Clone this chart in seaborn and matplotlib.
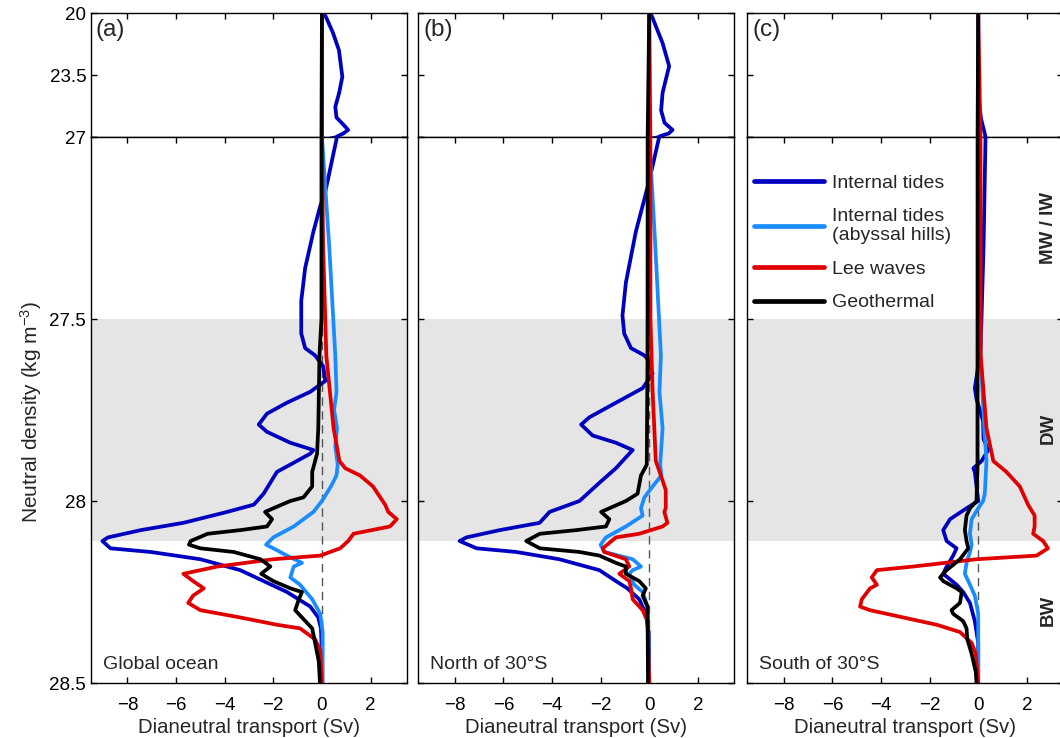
import matplotlib
matplotlib.use("Agg")
import matplotlib.pyplot as plt
from matplotlib.lines import Line2D
import pandas as pd
import seaborn as sns

# ---- data (neutral density in kg m-3, transport in Sv) ----
SOURCES = ["Internal tides", "Internal tides\n(abyssal hills)", "Lee waves", "Geothermal"]
PANEL_TAGS = ["(a)", "(b)", "(c)"]
REGIONS = ["Global ocean", "North of 30\u00b0S", "South of 30\u00b0S"]
WATER_MASSES = ["MW / IW", "DW", "BW"]
WATER_MASS_RHO = [27.25, 27.80, 28.30]

# (a) global ocean
glob_tides_rho = [20.15, 21.1, 22.1, 23.6, 24.5, 25.3, 25.9, 26.3, 26.6, 26.8, 26.95, 27.0,
                  27.15, 27.19, 27.26, 27.36, 27.45, 27.54, 27.58, 27.60, 27.63, 27.67, 27.70,
                  27.73, 27.76, 27.79, 27.81, 27.84, 27.86, 27.87, 27.90, 27.92, 27.98, 28.01,
                  28.03, 28.06, 28.08, 28.10, 28.11, 28.13, 28.14, 28.16, 28.19, 28.22, 28.25,
                  28.29, 28.32, 28.35, 28.42, 28.5]
glob_tides_sv = [0.14, 0.45, 0.7, 0.84, 0.71, 0.55, 0.6, 0.88, 1.08, 0.88, 0.65, 0.62,
                 0.14, -0.07, -0.35, -0.69, -0.85, -0.85, -0.69, -0.28, 0.05, 0.14, -0.48,
                 -1.44, -2.26, -2.6, -2.26, -1.3, -0.35, -0.48, -1.3, -1.85, -2.4, -2.8,
                 -3.9, -5.7, -7.45, -8.8, -9.03, -8.7, -7.05, -5.0, -3.36, -2.4, -1.44,
                 -0.48, -0.15, -0.04, 0.0, 0.0]
glob_hills_rho = [20.0, 27.0, 27.3, 27.6, 27.7, 27.75, 27.8, 27.85, 27.9, 27.93, 27.96, 28.0,
                  28.03, 28.07, 28.10, 28.12, 28.13, 28.15, 28.17, 28.18, 28.21, 28.23, 28.27,
                  28.31, 28.36, 28.5]
glob_hills_sv = [0.0, 0.0, 0.3, 0.55, 0.6, 0.5, 0.62, 0.55, 0.65, 0.6, 0.37, 0.0,
                 -0.35, -1.16, -2.0, -2.3, -2.0, -1.44, -0.82, -1.16, -1.3, -0.9, -0.4,
                 -0.07, 0.03, 0.03]
glob_lee_rho = [20.0, 27.0, 27.3, 27.6, 27.8, 27.89, 27.91, 27.93, 27.96, 28.01, 28.03, 28.05,
                28.07, 28.09, 28.11, 28.13, 28.15, 28.16, 28.18, 28.20, 28.22, 28.24, 28.26,
                28.28, 28.30, 28.32, 28.34, 28.35, 28.38, 28.41, 28.5]
glob_lee_sv = [0.0, 0.0, 0.05, 0.18, 0.48, 0.72, 0.96, 1.57, 2.1, 2.6, 2.73, 3.08,
               2.8, 1.3, 1.08, 0.75, -0.07, -2.0, -4.3, -5.7, -5.3, -4.86, -5.3,
               -5.5, -5.0, -3.36, -1.85, -0.9, -0.28, -0.07, 0.0]
glob_geo_rho = [20.0, 27.5, 27.6, 27.8, 27.87, 27.92, 27.96, 27.99, 28.0, 28.02, 28.03, 28.05,
                28.07, 28.08, 28.09, 28.11, 28.12, 28.13, 28.14, 28.16, 28.18, 28.20, 28.22,
                28.24, 28.25, 28.27, 28.30, 28.33, 28.35, 28.39, 28.44, 28.5]
glob_geo_sv = [0.0, -0.02, -0.1, -0.15, -0.2, -0.4, -0.4, -0.76, -1.3, -2.0, -2.34, -2.05,
               -2.26, -3.36, -4.7, -5.4, -5.47, -5.0, -3.63, -2.53, -2.12, -2.5, -2.0,
               -1.3, -0.82, -0.95, -1.1, -0.68, -0.4, -0.28, -0.13, -0.08]

# (b) north of 30S
north_tides_rho = [20.15, 21.7, 23.0, 24.5, 25.5, 26.2, 26.6, 26.8, 26.95, 27.0, 27.12, 27.26,
                   27.40, 27.49, 27.54, 27.58, 27.60, 27.61, 27.65, 27.69, 27.73, 27.77, 27.79,
                   27.82, 27.84, 27.86, 27.88, 27.91, 27.95, 28.0, 28.03, 28.06, 28.08, 28.10,
                   28.11, 28.13, 28.14, 28.16, 28.19, 28.22, 28.24, 28.27, 28.31, 28.36, 28.5]
north_tides_sv = [0.1, 0.55, 0.82, 0.55, 0.49, 0.63, 0.96, 0.8, 0.45, 0.41, 0.0, -0.55,
                  -0.96, -1.1, -1.03, -0.75, -0.2, -0.07, 0.14, -0.27, -1.37, -2.46, -2.8,
                  -2.33, -1.37, -0.68, -0.96, -1.37, -2.05, -2.87, -4.1, -4.51, -6.15, -7.52,
                  -7.8, -7.1, -5.47, -3.7, -2.05, -1.37, -0.9, -0.41, -0.14, -0.02, 0.0]
north_hills_rho = [20.0, 27.0, 27.3, 27.6, 27.7, 27.8, 27.9, 27.93, 27.96, 27.99, 28.02, 28.04,
                   28.07, 28.10, 28.12, 28.14, 28.16, 28.18, 28.19, 28.20, 28.23, 28.25, 28.29,
                   28.5]
north_hills_sv = [0.0, 0.0, 0.25, 0.48, 0.42, 0.55, 0.45, 0.5, 0.14, -0.2, -0.34, -0.27,
                  -0.96, -1.78, -2.0, -1.85, -0.68, -0.34, -0.68, -0.82, -0.62, -0.27, -0.07,
                  0.0]
north_lee_rho = [20.0, 27.5, 27.7, 27.89, 27.93, 27.97, 28.02, 28.03, 28.06, 28.07, 28.09, 28.10,
                 28.13, 28.14, 28.16, 28.18, 28.20, 28.22, 28.24, 28.27, 28.30, 28.33, 28.5]
north_lee_sv = [0.0, 0.05, 0.14, 0.27, 0.48, 0.68, 0.68, 0.62, 0.75, 0.55, -0.41, -1.37,
                -1.91, -1.85, -0.96, -0.82, -1.23, -0.82, -0.75, -0.68, -0.27, -0.07, 0.0]
north_geo_rho = [20.0, 27.6, 27.9, 27.93, 27.98, 28.0, 28.02, 28.03, 28.05, 28.07, 28.08, 28.09,
                 28.11, 28.13, 28.14, 28.15, 28.17, 28.18, 28.20, 28.22, 28.24, 28.26, 28.29,
                 28.5]
north_geo_sv = [0.0, -0.07, -0.1, -0.34, -0.48, -0.96, -1.64, -1.98, -1.64, -1.78, -3.0, -4.5,
                -5.06, -4.5, -2.87, -2.05, -1.37, -0.96, -0.96, -0.41, -0.14, -0.27, -0.07,
                -0.05]

# (c) south of 30S
south_tides_rho = [20.0, 24.7, 26.0, 26.8, 27.0, 27.3, 27.58, 27.63, 27.69, 27.72, 27.78, 27.83,
                   27.86, 27.89, 27.91, 27.92, 27.96, 28.0, 28.02, 28.05, 28.08, 28.11, 28.13,
                   28.15, 28.18, 28.20, 28.23, 28.25, 28.28, 28.33, 28.39, 28.5]
south_tides_sv = [0.0, 0.0, 0.12, 0.27, 0.3, 0.22, 0.1, 0.0, -0.14, -0.07, 0.2, 0.22,
                  0.41, 0.14, -0.2, -0.14, -0.07, 0.0, -0.48, -1.16, -1.44, -1.3, -0.89,
                  -1.03, -1.3, -1.44, -0.89, -0.62, -0.34, -0.14, 0.0, 0.0]
south_hills_rho = [20.0, 27.0, 27.6, 27.8, 27.89, 27.98, 28.0, 28.02, 28.05, 28.09, 28.12, 28.14,
                   28.17, 28.20, 28.23, 28.26, 28.31, 28.5]
south_hills_sv = [0.0, 0.0, 0.1, 0.25, 0.34, 0.27, 0.2, 0.0, -0.27, -0.34, -0.27, -0.34,
                  -0.48, -0.55, -0.34, -0.14, 0.0, 0.0]
south_lee_rho = [20.0, 27.6, 27.8, 27.89, 27.92, 27.96, 28.01, 28.04, 28.07, 28.09, 28.11, 28.13,
                 28.15, 28.16, 28.18, 28.19, 28.21, 28.23, 28.24, 28.27, 28.29, 28.30, 28.32,
                 28.34, 28.36, 28.39, 28.42, 28.5]
south_lee_sv = [0.0, 0.1, 0.34, 0.62, 1.16, 1.71, 2.05, 2.32, 2.32, 2.26, 2.67, 2.87,
                2.4, -0.07, -2.67, -4.17, -4.38, -4.17, -4.45, -4.79, -4.86, -4.45, -3.08,
                -1.71, -0.75, -0.27, -0.1, 0.0]
south_geo_rho = [20.0, 27.9, 28.0, 28.02, 28.04, 28.08, 28.11, 28.13, 28.16, 28.19, 28.21, 28.22,
                 28.24, 28.25, 28.28, 28.30, 28.31, 28.33, 28.35, 28.38, 28.42, 28.47, 28.5]
south_geo_sv = [0.0, -0.03, -0.07, -0.34, -0.48, -0.55, -0.48, -0.41, -0.75, -1.3, -1.57, -1.44,
                -0.89, -0.68, -0.75, -1.1, -1.03, -0.62, -0.48, -0.45, -0.27, -0.1, -0.07]

X_TICKS = [-8, -6, -4, -2, 0, 2]
TOP_TICKS = [20, 23.5, 27]
BOT_TICKS = [27, 27.5, 28, 28.5]
DW_BAND = (27.5, 28.11)

COLORS = ["#0000c0", "#1a8cff", "#e00000", "#000000"]


def panel_frame(curves):
    """Long-format table of the four curves of one panel."""
    parts = [pd.DataFrame({"density": rho, "transport": sv, "source": name})
             for name, (rho, sv) in zip(SOURCES, curves)]
    return pd.concat(parts, ignore_index=True)


panels = [
    panel_frame([(glob_tides_rho, glob_tides_sv), (glob_hills_rho, glob_hills_sv),
                 (glob_lee_rho, glob_lee_sv), (glob_geo_rho, glob_geo_sv)]),
    panel_frame([(north_tides_rho, north_tides_sv), (north_hills_rho, north_hills_sv),
                 (north_lee_rho, north_lee_sv), (north_geo_rho, north_geo_sv)]),
    panel_frame([(south_tides_rho, south_tides_sv), (south_hills_rho, south_hills_sv),
                 (south_lee_rho, south_lee_sv), (south_geo_rho, south_geo_sv)]),
]

sns.set_style("ticks")
plt.rcParams["font.family"] = ["Liberation Sans", "DejaVu Sans"]
plt.rcParams["mathtext.default"] = "regular"
plt.rcParams["axes.linewidth"] = 1.0

W, H = 1060, 738
fig = plt.figure(figsize=(W / 100, H / 100), dpi=100)
lefts = [91, 418.3, 747.3]
pw = 316

for i, df in enumerate(panels):
    l = lefts[i] / W
    ax_top = fig.add_axes([l, 1 - 137 / H, pw / W, 124 / H])
    ax_bot = fig.add_axes([l, 1 - 683 / H, pw / W, 546 / H])

    ax_bot.axhspan(*DW_BAND, color="#e5e5e5", lw=0, zorder=0)
    ax_bot.axvline(0, color="#555555", lw=1.0, dashes=(6, 4), zorder=1)

    for ax in (ax_top, ax_bot):
        sns.lineplot(data=df, x="transport", y="density", hue="source",
                     hue_order=SOURCES, palette=COLORS, sort=False, estimator=None,
                     orient="y", linewidth=2.7, solid_joinstyle="round",
                     solid_capstyle="round", legend=False, ax=ax, zorder=3)
        ax.set_xlim(-9.5, 3.5)
        ax.set_xticks(X_TICKS)
        ax.set_xlabel("")
        ax.set_ylabel("")
        ax.tick_params(direction="in", length=4.5, width=1.0, labelsize=13.5,
                       left=True, right=True, colors="black")
        for s in ax.spines.values():
            s.set_visible(True)
            s.set_color("black")

    ax_top.set_ylim(27, 20)
    ax_top.set_yticks(TOP_TICKS)
    ax_top.tick_params(axis="x", top=True, bottom=False, labelbottom=False)
    ax_bot.set_ylim(28.5, 27)
    ax_bot.set_yticks(BOT_TICKS)
    ax_bot.tick_params(axis="x", top=True, bottom=True, pad=10)
    ax_bot.set_xticklabels([f"{t:d}".replace("-", "\u2212") for t in X_TICKS])
    ax_bot.set_xlabel("Dianeutral transport (Sv)", fontsize=14.7, labelpad=3)

    if i == 0:
        ax_top.set_yticklabels(["20", "23.5", "27"])
        ax_bot.set_yticklabels(["", "27.5", "28", "28.5"])
    else:
        ax_top.set_yticklabels([])
        ax_bot.set_yticklabels([])

    ax_top.text(0.015, 0.95, PANEL_TAGS[i], transform=ax_top.transAxes,
                ha="left", va="top", fontsize=17.5)
    ax_bot.text(0.038, 0.018, REGIONS[i], transform=ax_bot.transAxes,
                ha="left", va="bottom", fontsize=14)

    if i == 2:
        handles = [Line2D([], [], color=c, lw=3.4) for c in COLORS]
        ax_bot.legend(handles, SOURCES, loc="upper left", bbox_to_anchor=(0.02, 0.932),
                      frameon=False, fontsize=14, handlelength=3.6, handletextpad=0.45,
                      labelspacing=0.82, borderpad=0, borderaxespad=0)
        for name, rho in zip(WATER_MASSES, WATER_MASS_RHO):
            ax_bot.text(0.953, rho, name, transform=ax_bot.get_yaxis_transform(),
                        rotation=90, ha="center", va="center", fontsize=13.5,
                        fontweight="bold")

fig.text(0.029, 1 - 412 / H, "Neutral density (kg m$^{-3}$)", rotation=90,
         ha="center", va="center", fontsize=15)

fig.savefig("out.png", dpi=100)
